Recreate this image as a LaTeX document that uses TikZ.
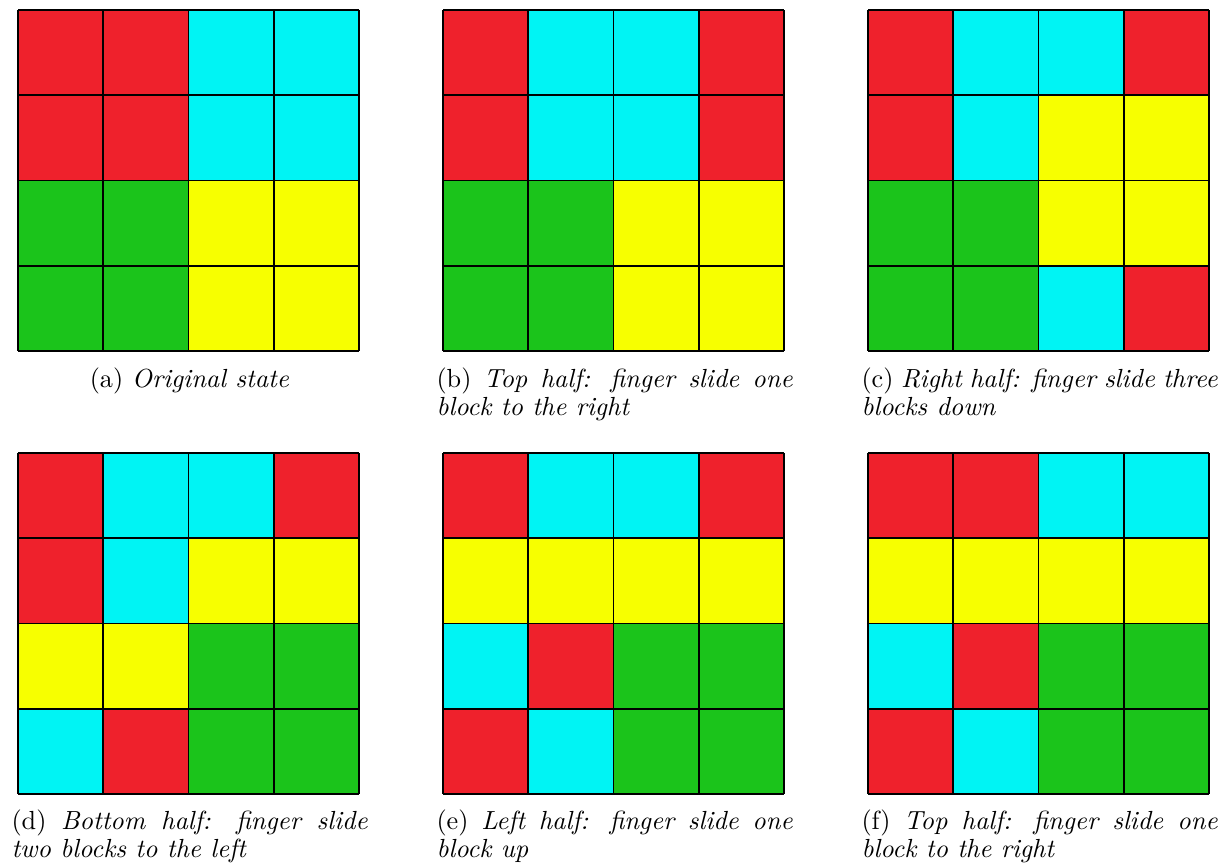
\documentclass[tikz,border=0pt]{standalone}
\definecolor{R}{RGB}{239,33,44}
\definecolor{C}{RGB}{0,244,244}
\definecolor{G}{RGB}{27,196,27}
\definecolor{Y}{RGB}{247,255,0}
\tikzset{
  gridline/.style={draw=black, line width=0.7pt},
  capline/.style={anchor=base west, inner sep=0pt},
  capcenter/.style={anchor=base, inner sep=0pt}
}
\newcommand\cellgrid[3]{%
  \foreach \c [count=\i from 0] in {#3} {
    \pgfmathtruncatemacro\col{mod(\i,4)}
    \pgfmathtruncatemacro\row{div(\i,4)}
    \fill[\c] ({#1+\col*85.25},{#2+\row*85.25}) rectangle ++(85.25,85.25);
  }
  \foreach \k in {0,1,2,3,4} {
    \draw[gridline] ({#1+\k*85.25},#2) -- ++(0,341);
    \draw[gridline] (#1,{#2+\k*85.25}) -- ++(341,0);
  }
}
\newcommand\jline[1]{\makebox[136pt][s]{#1}}
\begin{document}
\begin{tikzpicture}[x=0.3817pt,y=-0.3817pt]
\useasboundingbox (0,0) rectangle (1230,866);
% row 1
\cellgrid{18}{10}{R,R,C,C, R,R,C,C, G,G,Y,Y, G,G,Y,Y}
\cellgrid{443}{10}{R,C,C,R, R,C,C,R, G,G,Y,Y, G,G,Y,Y}
\cellgrid{868}{10}{R,C,C,R, R,C,Y,Y, G,G,Y,Y, G,G,C,R}
% row 2
\cellgrid{18}{453}{R,C,C,R, R,C,Y,Y, Y,Y,G,G, C,R,G,G}
\cellgrid{443}{453}{R,C,C,R, Y,Y,Y,Y, C,R,G,G, R,C,G,G}
\cellgrid{868}{453}{R,R,C,C, Y,Y,Y,Y, C,R,G,G, R,C,G,G}
% captions
\node[capcenter] (capa) at (189.5,387) {(a)\ \textit{Original state}};
\node[capline] (capb1) at (436,387) {\jline{(b)\ \textit{Top half: finger slide one}}};
\node[capline] (capb2) at (436,415) {\textit{block to the right}};
\node[capline] (capc1) at (861,387) {\jline{(c)\ \textit{Right half: finger slide three}}};
\node[capline] (capc2) at (861,415) {\textit{blocks down}};
\node[capline] (capd1) at (11,829) {\jline{(d)\ \textit{Bottom half: finger slide}}};
\node[capline] (capd2) at (11,857) {\textit{two blocks to the left}};
\node[capline] (cape1) at (436,829) {\jline{(e)\ \textit{Left half: finger slide one}}};
\node[capline] (cape2) at (436,857) {\textit{block up}};
\node[capline] (capf1) at (861,829) {\jline{(f)\ \textit{Top half: finger slide one}}};
\node[capline] (capf2) at (861,857) {\textit{block to the right}};
\end{tikzpicture}
\end{document}
